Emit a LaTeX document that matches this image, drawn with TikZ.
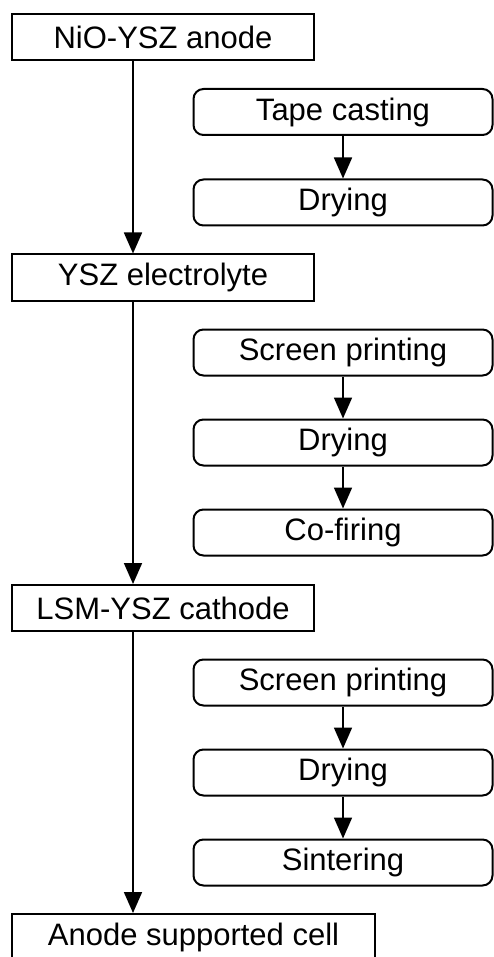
\documentclass[tikz,border=0pt]{standalone}
\usepackage{fontspec}
\setmainfont{Liberation Sans}
\usetikzlibrary{arrows.meta}
\begin{document}
\begin{tikzpicture}[x=1pt,y=-1pt,
  font=\fontsize{31}{37}\selectfont,
  mainbox/.style={draw, line width=2pt, minimum width=302pt, minimum height=46pt, inner sep=0pt},
  stepbox/.style={draw, line width=2pt, rounded corners=10pt, minimum width=299pt, minimum height=46pt, inner sep=0pt},
  arr/.style={line width=1.8pt, -{Triangle[width=18pt,length=21pt]}}]
\useasboundingbox (0,0) rectangle (494,957);
\node[mainbox] (nio) at (163,37) {NiO-YSZ anode};
\node[mainbox] (ysz) at (163,277.5) {YSZ electrolyte};
\node[mainbox] (lsm) at (163,608) {LSM-YSZ cathode};
\node[mainbox, minimum width=363pt] (cell) at (193.5,937) {Anode supported cell};
\node[stepbox] (tape) at (343,112) {Tape casting};
\node[stepbox] (dry1) at (343,202.5) {Drying};
\node[stepbox] (sp1) at (343,352.5) {Screen printing};
\node[stepbox] (dry2) at (343,442.5) {Drying};
\node[stepbox] (cofire) at (343,532.5) {Co-firing};
\node[stepbox] (sp2) at (343,682.5) {Screen printing};
\node[stepbox] (dry3) at (343,772.5) {Drying};
\node[stepbox] (sinter) at (343,862.5) {Sintering};
\coordinate (ax) at (133,0);
\draw[arr] (nio.south -| ax) -- (ysz.north -| ax);
\draw[arr] (ysz.south -| ax) -- (lsm.north -| ax);
\draw[arr] (lsm.south -| ax) -- (cell.north -| ax);
\draw[arr] (tape) -- (dry1);
\draw[arr] (sp1) -- (dry2);
\draw[arr] (dry2) -- (cofire);
\draw[arr] (sp2) -- (dry3);
\draw[arr] (dry3) -- (sinter);
\end{tikzpicture}
\end{document}
